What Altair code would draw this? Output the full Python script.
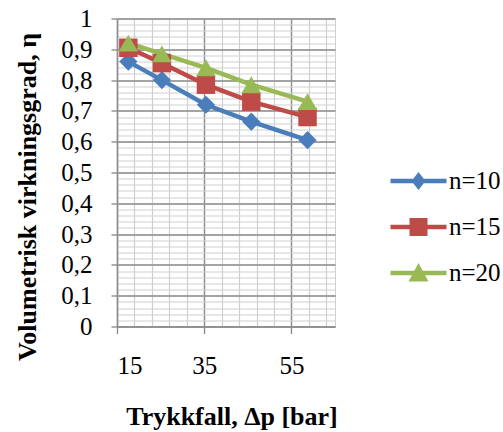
import altair as alt
import pandas as pd

# ---- data ----
pressure_drop = [17.6, 25.3, 35.4, 45.8, 58.7]
series_names = ["n=10", "n=15", "n=20"]
eta_n10 = [0.86, 0.80, 0.72, 0.665, 0.605]
eta_n15 = [0.905, 0.855, 0.785, 0.73, 0.68]
eta_n20 = [0.92, 0.885, 0.84, 0.785, 0.73]
series_colors = ["#4A7EBB", "#BE4B48", "#98B954"]

x_major_ticks = [15, 35, 55]
x_minor_ticks = [15, 19, 23, 27, 31, 35, 39, 43, 47, 51, 55, 59, 63]
y_major_ticks = [0, 0.1, 0.2, 0.3, 0.4, 0.5, 0.6, 0.7, 0.8, 0.9, 1.0]
y_minor_ticks = [round(i * 0.02, 2) for i in range(51)]

rows = []
for name, vals in zip(series_names, [eta_n10, eta_n15, eta_n20]):
    for i, (p, v) in enumerate(zip(pressure_drop, vals)):
        rows.append({"dp": p, "eta": v, "series": name, "order": i})
df = pd.DataFrame(rows)

FONT = "Liberation Serif"
xs = alt.Scale(domain=[15, 65], nice=False, zero=False)
ys = alt.Scale(domain=[0, 1], nice=False)
cs = alt.Scale(domain=series_names, range=series_colors)

# minor grid layer (grid only)
minor = alt.Chart(df).mark_point(opacity=0).encode(
    x=alt.X("dp:Q", scale=xs, axis=alt.Axis(values=x_minor_ticks, grid=True, gridColor="#cfcfcf",
                                           gridWidth=1.2, labels=False, ticks=False, domain=False,
                                           title=None, orient="top")),
    y=alt.Y("eta:Q", scale=ys, axis=alt.Axis(values=y_minor_ticks, grid=True, gridColor="#cfcfcf",
                                            gridWidth=1.2, labels=False, ticks=False, domain=False,
                                            title=None, orient="right")),
)

gcol = "#8e8e8e"
x_axis = alt.Axis(values=x_major_ticks, grid=True, gridColor=gcol, gridWidth=1.4,
                  domainColor=gcol, domainWidth=1.4, tickColor=gcol, tickWidth=1.4, tickSize=7,
                  labelFont=FONT, labelFontSize=25, labelColor="black", labelPadding=32,
                  labelBaseline="middle",
                  title="Trykkfall, Δp [bar]", titleFont=FONT, titleFontSize=26,
                  titleFontWeight="bold", titleColor="black", titleX=114.5, titleY=90,
                  titleBaseline="middle", titleAlign="center", orient="bottom")
y_axis = alt.Axis(values=y_major_ticks, grid=True, gridColor=gcol, gridWidth=1.4,
                  domainColor=gcol, domainWidth=1.4, tickColor=gcol, tickWidth=1.4, tickSize=6,
                  labelFont=FONT, labelFontSize=25, labelColor="black", labelPadding=19,
                  labelExpr="replace(format(datum.value, '.1~f'), '.', ',')",
                  title="Volumetrisk virkningsgrad, η", titleFont=FONT, titleFontSize=26,
                  titleFontWeight="bold", titleColor="black", titleX=-90, titleY=178,
                  titleBaseline="middle", titleAlign="center", titleAngle=270, orient="left")

lines = alt.Chart(df).mark_line(strokeWidth=4.5).encode(
    x=alt.X("dp:Q", scale=xs, axis=x_axis),
    y=alt.Y("eta:Q", scale=ys, axis=y_axis),
    color=alt.Color("series:N", scale=cs, legend=None),
    order="order:Q",
)

marker_shapes = ["diamond", "square", "triangle-up"]
marker_sizes = [330, 340, 380]
marker_layers = []
for name, shp, sz in zip(series_names, marker_shapes, marker_sizes):
    marker_layers.append(
        alt.Chart(df).transform_filter(alt.datum.series == name)
        .mark_point(shape=shp, filled=True, size=sz, opacity=1)
        .encode(x=alt.X("dp:Q", scale=xs, axis=None), y=alt.Y("eta:Q", scale=ys, axis=None),
                color=alt.Color("series:N", scale=cs, legend=None))
    )

seg = "M-2.8,-0.22L2.8,-0.22L2.8,0.22L-2.8,0.22Z"
legend_paths = [
    seg + "M0,-0.9L0.7,0L0,0.9L-0.7,0Z",
    seg + "M-0.9,-0.9L0.9,-0.9L0.9,0.9L-0.9,0.9Z",
    seg + "M0,-1L1,0.85L-1,0.85Z",
]
leg = alt.Legend(title=None, orient="none", legendX=289, legendY=150, symbolSize=400,
                 symbolOpacity=1, symbolStrokeWidth=0, labelFont=FONT, labelFontSize=25,
                 labelColor="black", labelOffset=18, rowPadding=20, padding=0)
legend_layer = alt.Chart(df).mark_point(filled=True, opacity=0).encode(
    x=alt.X("dp:Q", scale=xs, axis=None), y=alt.Y("eta:Q", scale=ys, axis=None),
    color=alt.Color("series:N", scale=cs, legend=leg),
    shape=alt.Shape("series:N", scale=alt.Scale(domain=series_names, range=legend_paths), legend=leg),
)

chart = alt.layer(minor, legend_layer, lines, *marker_layers).resolve_axis(
    x="independent", y="independent"
).properties(
    width=218, height=308,
    padding={"left": 117, "top": 18.5, "right": 168, "bottom": 105.5},
    autosize=alt.AutoSizeParams(type="none"),
    background="white",
).configure_view(stroke="#cfcfcf").configure_axis(
    labelFont=FONT, titleFont=FONT
).configure_legend(labelFont=FONT)

chart.save("out.html", embed_options={"renderer": "svg", "actions": False})
